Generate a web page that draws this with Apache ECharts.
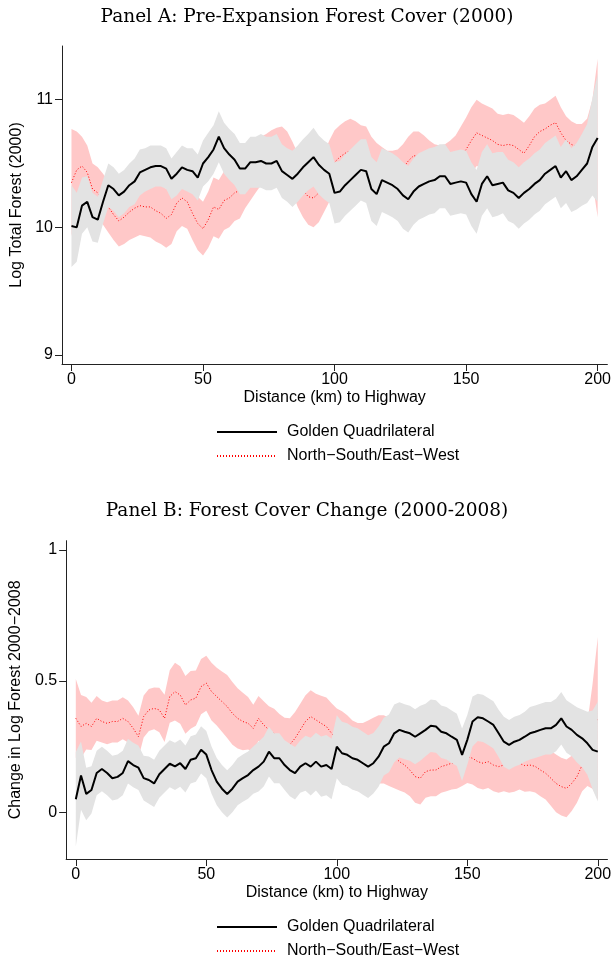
<!DOCTYPE html>
<html>
<head>
<meta charset="utf-8">
<script src="https://cdn.jsdelivr.net/npm/echarts@6/dist/echarts.min.js"></script>
<style>
  body { margin: 0; background: #fff; }
  #chart { width: 614px; height: 958px; }
</style>
</head>
<body>
<div id="chart"></div>
<script>
// distance to highway (km), one point every 2 km
var dist = [0, 2, 4, 6, 8, 10, 12, 14, 16, 18,
  20, 22, 24, 26, 28, 30, 32, 34, 36, 38,
  40, 42, 44, 46, 48, 50, 52, 54, 56, 58,
  60, 62, 64, 66, 68, 70, 72, 74, 76, 78,
  80, 82, 84, 86, 88, 90, 92, 94, 96, 98,
  100, 102, 104, 106, 108, 110, 112, 114, 116, 118,
  120, 122, 124, 126, 128, 130, 132, 134, 136, 138,
  140, 142, 144, 146, 148, 150, 152, 154, 156, 158,
  160, 162, 164, 166, 168, 170, 172, 174, 176, 178,
  180, 182, 184, 186, 188, 190, 192, 194, 196, 198,
  200];

// Panel A: log total forest (2000)
var gqMeanA = [10.01, 10.00, 10.17, 10.20, 10.08, 10.06, 10.20, 10.33, 10.30, 10.25,
  10.28, 10.33, 10.36, 10.43, 10.45, 10.47, 10.48, 10.48, 10.46, 10.38,
  10.42, 10.47, 10.45, 10.44, 10.39, 10.50, 10.55, 10.61, 10.71, 10.62,
  10.57, 10.53, 10.46, 10.46, 10.51, 10.51, 10.52, 10.50, 10.50, 10.52,
  10.44, 10.41, 10.38, 10.42, 10.47, 10.51, 10.55, 10.49, 10.45, 10.42,
  10.27, 10.28, 10.33, 10.37, 10.41, 10.45, 10.44, 10.30, 10.26, 10.37,
  10.35, 10.33, 10.30, 10.25, 10.22, 10.28, 10.32, 10.34, 10.36, 10.37,
  10.40, 10.40, 10.34, 10.35, 10.36, 10.35, 10.26, 10.20, 10.34, 10.40,
  10.33, 10.34, 10.35, 10.29, 10.27, 10.23, 10.27, 10.30, 10.34, 10.37,
  10.42, 10.45, 10.48, 10.39, 10.44, 10.37, 10.40, 10.45, 10.50, 10.63,
  10.70];
var gqHalfA = [0.32, 0.27, 0.22, 0.20, 0.19, 0.18, 0.17, 0.17, 0.17, 0.17,
  0.17, 0.17, 0.18, 0.18, 0.17, 0.17, 0.16, 0.16, 0.16, 0.16,
  0.17, 0.17, 0.17, 0.18, 0.18, 0.18, 0.19, 0.19, 0.20, 0.20,
  0.20, 0.20, 0.20, 0.20, 0.20, 0.20, 0.21, 0.21, 0.21, 0.21,
  0.21, 0.21, 0.22, 0.22, 0.22, 0.22, 0.23, 0.23, 0.23, 0.23,
  0.24, 0.24, 0.24, 0.24, 0.24, 0.24, 0.25, 0.25, 0.25, 0.25,
  0.25, 0.25, 0.25, 0.26, 0.26, 0.26, 0.26, 0.26, 0.26, 0.26,
  0.25, 0.25, 0.25, 0.25, 0.25, 0.25, 0.25, 0.25, 0.25, 0.25,
  0.25, 0.25, 0.24, 0.24, 0.24, 0.24, 0.24, 0.24, 0.24, 0.24,
  0.24, 0.24, 0.24, 0.24, 0.25, 0.25, 0.26, 0.28, 0.31, 0.38,
  0.50];
var nsMeanA = [10.35, 10.45, 10.48, 10.43, 10.30, 10.27, 10.22, 10.16, 10.10, 10.05,
  10.08, 10.12, 10.15, 10.17, 10.16, 10.16, 10.13, 10.11, 10.07, 10.10,
  10.19, 10.23, 10.20, 10.11, 10.03, 9.99, 10.06, 10.16, 10.14, 10.21,
  10.23, 10.27, 10.29, 10.36, 10.42, 10.47, 10.52, 10.55, 10.58, 10.60,
  10.61, 10.56, 10.47, 10.37, 10.29, 10.24, 10.23, 10.27, 10.35, 10.44,
  10.51, 10.55, 10.58, 10.60, 10.58, 10.56, 10.57, 10.50, 10.45, 10.42,
  10.40, 10.40, 10.42, 10.46, 10.52, 10.56, 10.56, 10.53, 10.48, 10.45,
  10.44, 10.44, 10.46, 10.50, 10.56, 10.61, 10.68, 10.74, 10.72, 10.70,
  10.68, 10.65, 10.64, 10.65, 10.64, 10.61, 10.58, 10.64, 10.71, 10.75,
  10.77, 10.80, 10.82, 10.74, 10.68, 10.65, 10.63, 10.63, 10.65, 10.68,
  10.70];
var nsHalfA = [0.42, 0.30, 0.23, 0.21, 0.20, 0.20, 0.20, 0.20, 0.20, 0.20,
  0.21, 0.22, 0.23, 0.23, 0.23, 0.24, 0.24, 0.24, 0.23, 0.23,
  0.22, 0.22, 0.21, 0.21, 0.21, 0.21, 0.22, 0.23, 0.23, 0.23,
  0.23, 0.22, 0.22, 0.21, 0.21, 0.20, 0.19, 0.18, 0.18, 0.18,
  0.18, 0.19, 0.20, 0.21, 0.21, 0.22, 0.23, 0.23, 0.23, 0.24,
  0.25, 0.25, 0.25, 0.25, 0.25, 0.24, 0.22, 0.21, 0.21, 0.21,
  0.20, 0.20, 0.19, 0.19, 0.19, 0.19, 0.19, 0.19, 0.20, 0.20,
  0.20, 0.21, 0.22, 0.22, 0.23, 0.25, 0.26, 0.26, 0.25, 0.25,
  0.25, 0.24, 0.24, 0.24, 0.24, 0.24, 0.24, 0.23, 0.22, 0.21,
  0.20, 0.20, 0.21, 0.20, 0.19, 0.18, 0.18, 0.18, 0.20, 0.32,
  0.62];

// Panel B: change in log forest 2000-2008
var gqMeanB = [0.050, 0.140, 0.070, 0.085, 0.150, 0.165, 0.150, 0.130, 0.135, 0.150,
  0.195, 0.180, 0.170, 0.130, 0.123, 0.110, 0.145, 0.165, 0.185, 0.175,
  0.187, 0.165, 0.200, 0.206, 0.238, 0.220, 0.161, 0.117, 0.090, 0.070,
  0.090, 0.117, 0.130, 0.142, 0.161, 0.174, 0.193, 0.231, 0.206, 0.206,
  0.180, 0.161, 0.149, 0.174, 0.187, 0.174, 0.193, 0.174, 0.180, 0.165,
  0.250, 0.225, 0.219, 0.206, 0.200, 0.187, 0.174, 0.187, 0.212, 0.250,
  0.263, 0.301, 0.314, 0.307, 0.301, 0.288, 0.301, 0.314, 0.330, 0.327,
  0.307, 0.301, 0.288, 0.276, 0.219, 0.276, 0.346, 0.362, 0.358, 0.346,
  0.333, 0.301, 0.269, 0.257, 0.269, 0.276, 0.288, 0.301, 0.307, 0.314,
  0.320, 0.320, 0.333, 0.358, 0.327, 0.314, 0.295, 0.282, 0.263, 0.238,
  0.231];
var gqHalfB = [0.18, 0.13, 0.10, 0.09, 0.085, 0.085, 0.085, 0.085, 0.085, 0.085,
  0.085, 0.085, 0.085, 0.085, 0.09, 0.09, 0.09, 0.09, 0.09, 0.09,
  0.09, 0.09, 0.09, 0.09, 0.09, 0.09, 0.09, 0.09, 0.09, 0.09,
  0.09, 0.09, 0.09, 0.09, 0.09, 0.095, 0.095, 0.095, 0.095, 0.095,
  0.095, 0.10, 0.10, 0.10, 0.105, 0.11, 0.11, 0.115, 0.115, 0.115,
  0.12, 0.12, 0.12, 0.12, 0.12, 0.12, 0.12, 0.115, 0.115, 0.11,
  0.11, 0.11, 0.105, 0.105, 0.105, 0.105, 0.105, 0.10, 0.10, 0.10,
  0.10, 0.10, 0.10, 0.10, 0.10, 0.095, 0.095, 0.09, 0.09, 0.09,
  0.09, 0.09, 0.095, 0.095, 0.095, 0.095, 0.095, 0.10, 0.10, 0.10,
  0.10, 0.10, 0.10, 0.10, 0.10, 0.10, 0.105, 0.11, 0.12, 0.15,
  0.19];
var nsMeanB = [0.358, 0.327, 0.339, 0.327, 0.358, 0.346, 0.339, 0.346, 0.346, 0.358,
  0.346, 0.320, 0.288, 0.365, 0.390, 0.396, 0.390, 0.358, 0.441, 0.460,
  0.447, 0.409, 0.428, 0.435, 0.479, 0.492, 0.460, 0.441, 0.422, 0.403,
  0.377, 0.358, 0.346, 0.339, 0.320, 0.358, 0.333, 0.314, 0.300, 0.280,
  0.260, 0.258, 0.282, 0.314, 0.346, 0.365, 0.352, 0.339, 0.327, 0.301,
  0.276, 0.260, 0.240, 0.220, 0.210, 0.210, 0.220, 0.230, 0.240, 0.240,
  0.230, 0.212, 0.193, 0.180, 0.161, 0.136, 0.130, 0.155, 0.161, 0.161,
  0.174, 0.180, 0.187, 0.190, 0.200, 0.212, 0.206, 0.193, 0.187, 0.193,
  0.180, 0.174, 0.180, 0.174, 0.178, 0.187, 0.178, 0.180, 0.175, 0.161,
  0.149, 0.130, 0.110, 0.098, 0.091, 0.110, 0.136, 0.180, 0.220, 0.290,
  0.358];
var nsHalfB = [0.15, 0.12, 0.10, 0.09, 0.085, 0.08, 0.08, 0.08, 0.08, 0.08,
  0.08, 0.08, 0.08, 0.08, 0.08, 0.08, 0.085, 0.09, 0.10, 0.11,
  0.11, 0.11, 0.11, 0.105, 0.105, 0.105, 0.11, 0.11, 0.115, 0.12,
  0.12, 0.115, 0.11, 0.10, 0.09, 0.085, 0.09, 0.09, 0.095, 0.095,
  0.10, 0.10, 0.10, 0.10, 0.10, 0.10, 0.10, 0.105, 0.11, 0.115,
  0.12, 0.125, 0.13, 0.13, 0.13, 0.13, 0.13, 0.13, 0.13, 0.13,
  0.13, 0.12, 0.11, 0.105, 0.10, 0.10, 0.10, 0.10, 0.10, 0.10,
  0.10, 0.10, 0.10, 0.10, 0.10, 0.10, 0.10, 0.10, 0.10, 0.10,
  0.10, 0.10, 0.10, 0.10, 0.10, 0.10, 0.10, 0.10, 0.10, 0.10,
  0.10, 0.105, 0.11, 0.11, 0.11, 0.105, 0.10, 0.10, 0.12, 0.20,
  0.31];

var xTicks = [0, 50, 100, 150, 200];
var yTicksA = [9, 10, 11];
var yTicksB = [0, 0.5, 1];

var GQ = 'Golden Quadrilateral';
var NS = 'North\u2212South/East\u2212West';
var sans = 'Liberation Sans';

// confidence band drawn as one polygon through the axis scales
function bandSeries(mean, half, color, idx, z) {
  var data = dist.map(function (d, i) {
    return [d, mean[i] - half[i], mean[i] + half[i]];
  });
  return {
    type: 'custom',
    xAxisIndex: idx,
    yAxisIndex: idx,
    z: z,
    silent: true,
    data: data,
    encode: { x: 0, y: [1, 2] },
    renderItem: function (params, api) {
      if (params.dataIndex !== 0) return null;
      var pts = [];
      for (var i = 0; i < data.length; i++) pts.push(api.coord([data[i][0], data[i][2]]));
      for (var j = data.length - 1; j >= 0; j--) pts.push(api.coord([data[j][0], data[j][1]]));
      return { type: 'polygon', shape: { points: pts }, style: { fill: color } };
    }
  };
}

function lineSeries(name, mean, idx, z, style) {
  return {
    type: 'line',
    name: name,
    xAxisIndex: idx,
    yAxisIndex: idx,
    z: z,
    symbol: 'none',
    data: dist.map(function (d, i) { return [d, mean[i]]; }),
    itemStyle: { color: style.color },
    lineStyle: style
  };
}

function xAxis(idx, min) {
  return {
    type: 'value', gridIndex: idx, min: min, max: 203.7,
    name: 'Distance (km) to Highway', nameLocation: 'middle', nameGap: 26,
    nameTextStyle: { fontSize: 16, color: '#000', fontFamily: sans },
    axisLine: { onZero: false, lineStyle: { color: '#222', width: 1 } },
    axisTick: { length: 7, lineStyle: { color: '#222' }, customValues: xTicks },
    axisLabel: { fontSize: 16, color: '#000', fontFamily: sans, margin: 8, customValues: xTicks },
    splitLine: { show: false }
  };
}

function yAxis(idx, min, max, ticks, name, gap) {
  return {
    type: 'value', gridIndex: idx, min: min, max: max,
    name: name, nameLocation: 'middle', nameGap: gap,
    nameTextStyle: { fontSize: 16, color: '#000', fontFamily: sans },
    axisLine: { show: true, onZero: false, lineStyle: { color: '#222', width: 1 } },
    axisTick: { show: true, length: 7, lineStyle: { color: '#222' }, customValues: ticks },
    axisLabel: { fontSize: 16, color: '#000', fontFamily: sans, margin: 9, customValues: ticks },
    splitLine: { show: false }
  };
}

function legend(top) {
  return {
    data: [GQ, NS],
    orient: 'vertical',
    left: 216,
    top: top,
    height: 80,
    padding: 0,
    itemWidth: 60,
    itemHeight: 14,
    itemGap: 8,
    itemStyle: { opacity: 0 },
    textStyle: { fontSize: 16, color: '#000', fontFamily: sans, padding: [0, 0, 0, 5] }
  };
}

var blackLine = { color: '#000', width: 2, type: 'solid' };
var redLine = { color: '#ff0000', width: 1, type: [1, 2] };
var pink = '#ffc8c8';
var grey = '#e3e3e3';
var serif = { fontFamily: 'DejaVu Serif', fontSize: 18.5, fontWeight: 'normal', color: '#000' };

var option = {
  animation: false,
  backgroundColor: '#fff',
  title: [
    { text: 'Panel A: Pre-Expansion Forest Cover (2000)', left: 'center', top: 8, padding: 0, textStyle: serif },
    { text: 'Panel B: Forest Cover Change (2000-2008)', left: 'center', top: 502, padding: 0, textStyle: serif }
  ],
  legend: [legend(424), legend(919)],
  grid: [
    { left: 62, right: 3.4, top: 46, bottom: 594 },
    { left: 57.6, right: 3.4, top: 540.7, bottom: 99 }
  ],
  xAxis: [xAxis(0, -3.6), xAxis(1, -3.7)],
  yAxis: [
    yAxis(0, 8.93, 11.42, yTicksA, 'Log Total Forest (2000)', 35),
    yAxis(1, -0.178, 1.035, yTicksB, 'Change in Log Forest 2000\u22122008', 32)
  ],
  series: [
    bandSeries(nsMeanA, nsHalfA, pink, 0, 1),
    lineSeries(NS, nsMeanA, 0, 2, redLine),
    bandSeries(gqMeanA, gqHalfA, grey, 0, 3),
    lineSeries(GQ, gqMeanA, 0, 4, blackLine),
    bandSeries(nsMeanB, nsHalfB, pink, 1, 1),
    lineSeries(NS, nsMeanB, 1, 2, redLine),
    bandSeries(gqMeanB, gqHalfB, grey, 1, 3),
    lineSeries(GQ, gqMeanB, 1, 4, blackLine)
  ]
};

var myChart = echarts.init(document.getElementById('chart'));
myChart.setOption(option);
</script>
</body>
</html>
